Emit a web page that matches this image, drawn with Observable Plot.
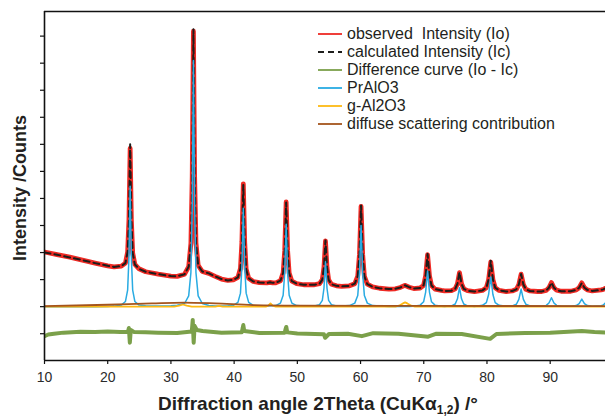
<!DOCTYPE html>
<html><head><meta charset="utf-8">
<script src="https://cdn.jsdelivr.net/npm/d3@7"></script>
<script src="https://cdn.jsdelivr.net/npm/@observablehq/plot@0.6"></script>
<style>
body{margin:0;background:#fff;font-family:"Liberation Sans",Arial,sans-serif;}
#wrap{position:relative;width:605px;height:417px;overflow:hidden;}
#legend{position:absolute;left:318px;top:25px;font-size:16px;color:#231f20;line-height:18px;}
#legend .row{display:flex;align-items:center;height:18px;white-space:pre;}
#legend svg{width:24px;height:18px;margin-right:5px;flex:none;}
.ytitle{position:absolute;left:20px;top:188px;transform:translate(-50%,-50%) rotate(-90deg);font-weight:bold;font-size:18px;color:#231f20;white-space:nowrap;}
.xtitle{position:absolute;left:318px;top:404px;transform:translate(-50%,-50%);font-weight:bold;font-size:19px;color:#231f20;white-space:nowrap;}
.xtitle sub{font-size:12px;vertical-align:-4px;line-height:0;}
</style></head><body><div id="wrap"></div>
<script>
// 2Theta grid (degrees) shared by observed, calculated and PrAlO3 curves
const angles = [
 10, 12, 14, 16, 18, 20, 21,
 22.15, 22.8, 23.15, 23.36, 23.55, 23.74, 23.95, 24.3, 24.95,
 26, 28, 30, 31,
 32.16, 32.81, 33.16, 33.37, 33.56, 33.75, 33.96, 34.31, 34.96,
 36, 37, 38, 39,
 39.87, 40.6, 41.0, 41.23, 41.45, 41.67, 41.9, 42.3, 43.03,
 44, 45.2, 45.7, 46.1,
 46.57, 47.33, 47.755, 48.0, 48.23, 48.46, 48.705, 49.13, 49.89,
 51,
 52.7, 53.51, 53.95, 54.21, 54.45, 54.69, 54.95, 55.39, 56.2,
 57,
 58.24, 59.09, 59.555, 59.83, 60.08, 60.33, 60.605, 61.07, 61.92,
 63, 64.5, 65.5, 66.3, 67.0, 67.7,
 68.41, 69.42, 69.975, 70.3, 70.6, 70.9, 71.225, 71.78, 72.79,
 73.29, 74.38, 74.975, 75.33, 75.65, 75.97, 76.325, 76.92, 78.01,
 79.28, 79.9, 80.26, 80.6, 80.94, 81.3, 81.92, 83.05,
 84.0, 84.65, 85.04, 85.4, 85.76, 86.15, 86.81, 88.03,
 88.65, 89.375, 89.8, 90.2, 90.6, 91.025, 91.75,
 93.25, 94.125, 94.58, 95.0, 95.42, 95.875, 96.65, 98.06,
 98.4, 98.75
];
// intensities in thousands of counts
const observed = [
 2.02, 1.92, 1.83, 1.72, 1.61, 1.51, 1.47,
 1.50, 1.61, 2.02, 3.22, 5.85, 3.21, 1.99, 1.56, 1.40,
 1.29, 1.20, 1.13, 1.12,
 1.20, 1.48, 2.34, 4.81, 10.18, 4.82, 2.36, 1.53, 1.30,
 1.23, 1.12, 1.02, 0.97,
 0.99, 1.08, 1.41, 2.39, 4.54, 2.39, 1.39, 1.05, 0.93,
 0.89, 0.88, 0.90, 0.88,
 0.88, 0.96, 1.25, 2.07, 3.87, 2.07, 1.24, 0.94, 0.85,
 0.81,
 0.81, 0.85, 1.00, 1.45, 2.43, 1.45, 0.99, 0.83, 0.77,
 0.75,
 0.77, 0.85, 1.13, 1.94, 3.71, 1.94, 1.12, 0.83, 0.73,
 0.68, 0.65, 0.66, 0.71, 0.79, 0.72,
 0.67, 0.69, 0.79, 1.14, 1.92, 1.14, 0.78, 0.65, 0.60,
 0.58, 0.59, 0.66, 0.85, 1.26, 0.85, 0.66, 0.59, 0.56,
 0.60, 0.70, 1.00, 1.65, 1.00, 0.70, 0.60, 0.56,
 0.58, 0.64, 0.82, 1.20, 0.82, 0.64, 0.58, 0.56,
 0.56, 0.60, 0.70, 0.89, 0.70, 0.61, 0.57,
 0.57, 0.62, 0.70, 0.88, 0.70, 0.62, 0.58, 0.62,
 0.64, 0.68
];
const calculated = [
 2.00, 1.92, 1.82, 1.72, 1.61, 1.51, 1.47,
 1.50, 1.61, 2.02, 3.15, 6.00, 3.25, 1.99, 1.56, 1.40,
 1.29, 1.20, 1.13, 1.12,
 1.20, 1.48, 2.34, 4.60, 10.25, 4.90, 2.36, 1.53, 1.30,
 1.23, 1.12, 1.02, 0.97,
 0.99, 1.08, 1.41, 2.35, 4.50, 2.40, 1.39, 1.05, 0.93,
 0.89, 0.88, 0.90, 0.88,
 0.88, 0.96, 1.25, 2.05, 3.85, 2.08, 1.24, 0.94, 0.85,
 0.81,
 0.81, 0.85, 1.00, 1.46, 2.45, 1.46, 0.99, 0.83, 0.77,
 0.75,
 0.77, 0.85, 1.13, 1.95, 3.74, 1.95, 1.12, 0.83, 0.73,
 0.68, 0.65, 0.66, 0.71, 0.79, 0.72,
 0.67, 0.69, 0.79, 1.15, 1.95, 1.15, 0.78, 0.65, 0.60,
 0.58, 0.59, 0.66, 0.85, 1.27, 0.85, 0.66, 0.59, 0.56,
 0.60, 0.70, 1.01, 1.70, 1.01, 0.70, 0.60, 0.56,
 0.58, 0.64, 0.82, 1.21, 0.82, 0.64, 0.58, 0.56,
 0.56, 0.60, 0.70, 0.89, 0.70, 0.61, 0.57,
 0.57, 0.62, 0.70, 0.87, 0.70, 0.62, 0.58, 0.62,
 0.64, 0.68
];
const prAlO3 = [
 0, 0, 0, 0, 0, 0.01, 0.02,
 0.057, 0.19, 0.61, 1.82, 4.45, 1.82, 0.61, 0.19, 0.057,
 0.03, 0.02, 0.03, 0.05,
 0.117, 0.40, 1.26, 3.73, 9.1, 3.73, 1.26, 0.40, 0.117,
 0.04, 0.02, 0.02, 0.03,
 0.047, 0.158, 0.50, 1.49, 3.64, 1.49, 0.50, 0.158, 0.047,
 0.02, 0.02, 0.03, 0.03,
 0.039, 0.132, 0.42, 1.25, 3.05, 1.25, 0.42, 0.132, 0.039,
 0.02,
 0.021, 0.072, 0.23, 0.68, 1.66, 0.68, 0.23, 0.072, 0.021,
 0.02,
 0.039, 0.13, 0.41, 1.23, 3.0, 1.23, 0.41, 0.13, 0.039,
 0.02, 0.01, 0.01, 0.01, 0.01, 0.01,
 0.017, 0.057, 0.18, 0.54, 1.32, 0.54, 0.18, 0.057, 0.017,
 0.009, 0.030, 0.097, 0.29, 0.70, 0.29, 0.097, 0.030, 0.009,
 0.048, 0.15, 0.45, 1.10, 0.45, 0.15, 0.048, 0.02,
 0.028, 0.09, 0.27, 0.65, 0.27, 0.09, 0.028, 0.012,
 0.014, 0.046, 0.135, 0.33, 0.135, 0.046, 0.014,
 0.012, 0.039, 0.115, 0.28, 0.115, 0.039, 0.012, 0.037,
 0.058, 0.14
];
const gAl2O3Angles = [10, 30.5, 31.3, 31.9, 32.5, 33.3, 37.0, 37.6, 38.2, 45.0, 45.4, 45.75, 46.1, 46.6, 65.5, 66.2, 66.7, 67.05, 67.4, 67.9, 68.6, 98.75];
const gAl2O3 = [0, 0, 0.04, 0.08, 0.04, 0, 0, 0.03, 0, 0, 0.04, 0.12, 0.04, 0, 0, 0.05, 0.12, 0.16, 0.12, 0.05, 0, 0];
const diffuseAngles = [10, 20, 27, 32, 37, 43, 50, 70, 98.75];
const diffuse = [0.02, 0.07, 0.12, 0.15, 0.12, 0.06, 0.04, 0.03, 0.02];
const differenceAngles = [10, 10.6, 11.5, 13, 15.7, 18, 20, 22, 23.2, 23.35, 23.5, 23.65, 24.2, 26, 28, 31, 33.3, 33.45, 33.6, 33.75, 34.1, 35, 38, 41.2, 41.35, 41.45, 41.6, 44, 48.0, 48.15, 48.25, 48.4, 50, 54.2, 54.4, 55, 58, 60.2, 62, 66, 70.7, 72, 76, 80.5, 81.5, 86, 90, 95, 97, 98.75];
const difference = [-1.09, -1.03, -1.0, -0.96, -0.93, -0.94, -0.92, -0.94, -0.93, -0.79, -1.33, -0.86, -0.94, -0.95, -0.96, -0.97, -0.92, -0.49, -1.33, -0.71, -0.86, -0.9, -0.96, -0.95, -0.80, -0.68, -0.9, -0.97, -0.96, -0.82, -0.75, -0.95, -0.99, -1.02, -1.15, -1.01, -1.0, -1.09, -0.98, -1.0, -1.11, -1.0, -1.01, -1.19, -1.01, -0.97, -0.96, -0.9, -0.94, -0.96];
const xTicks = [10, 20, 30, 40, 50, 60, 70, 80, 90];
const yTicks = [-1, 0, 1, 2, 3, 4, 5, 6, 7, 8, 9, 10];
const seriesNames = ["observed  Intensity (Io)", "calculated Intensity (Ic)", "Difference curve (Io - Ic)", "PrAlO3", "g-Al2O3", "diffuse scattering contribution"];
const seriesColors = ["#ee2a24", "#1d1d1b", "#7ba04a", "#29abe2", "#fdb913", "#a4541c"];

const main = angles.map((a, i) => ({a, obs: observed[i], calc: calculated[i], pr: prAlO3[i]}));
const gData = gAl2O3Angles.map((a, i) => ({a, v: gAl2O3[i]}));
const dData = diffuseAngles.map((a, i) => ({a, v: diffuse[i]}));
const diffData = differenceAngles.map((a, i) => ({a, v: difference[i]}));
const yMin = -1.99, yMax = 10.91;

const chart = Plot.plot({
  width: 605, height: 417,
  marginLeft: 44, marginRight: 0, marginTop: 11, marginBottom: 57,
  style: {fontSize: "14px", fontFamily: "Liberation Sans, Arial, sans-serif", color: "#2b2b2b", background: "#fff"},
  x: {domain: [10, 98.75]},
  y: {domain: [yMin, yMax]},
  marks: [
    Plot.line(main, {x: "a", y: "obs", stroke: seriesColors[0], strokeWidth: 4.8, clip: true}),
    Plot.line(main, {x: "a", y: "calc", stroke: seriesColors[1], strokeWidth: 2, strokeDasharray: "6,4", clip: true}),
    Plot.line(main, {x: "a", y: "pr", stroke: seriesColors[3], strokeWidth: 1.5, clip: true}),
    Plot.line(gData, {x: "a", y: "v", stroke: seriesColors[4], strokeWidth: 1.8, clip: true}),
    Plot.line(dData, {x: "a", y: "v", stroke: seriesColors[5], strokeWidth: 1.8, curve: "monotone-x", clip: true}),
    Plot.line(diffData, {x: "a", y: "v", stroke: seriesColors[2], strokeWidth: 4, clip: true}),
    Plot.axisX({ticks: xTicks, tickSize: 4, tickPadding: 8, label: null, stroke: "#111", strokeWidth: 1.2}),
    Plot.axisY({ticks: yTicks, tickSize: 4, tickFormat: () => "", label: null, stroke: "#111", strokeWidth: 1.2}),
    Plot.ruleX([10], {stroke: "#111", strokeWidth: 1.6}),
    Plot.ruleY([yMin], {stroke: "#111", strokeWidth: 1.6}),
    Plot.ruleY([yMax], {stroke: "#111", strokeWidth: 1.6})
  ]
});
const wrap = document.getElementById("wrap");
wrap.appendChild(chart);

const legend = document.createElement("div");
legend.id = "legend";
seriesNames.forEach((name, i) => {
  const row = document.createElement("div");
  row.className = "row";
  const dash = i === 1 ? ' stroke-dasharray="6,4"' : '';
  row.innerHTML = `<svg viewBox="0 0 24 18"><line x1="0" x2="24" y1="9" y2="9" stroke="${seriesColors[i]}" stroke-width="${i===1?2:1.8}"${dash}/></svg><span>${name}</span>`;
  legend.appendChild(row);
});
wrap.appendChild(legend);

const yt = document.createElement("div");
yt.className = "ytitle"; yt.textContent = "Intensity /Counts";
wrap.appendChild(yt);
const xt = document.createElement("div");
xt.className = "xtitle"; xt.innerHTML = "Diffraction angle 2Theta (CuKα<sub>1,2</sub>) /°";
wrap.appendChild(xt);
</script></body></html>
